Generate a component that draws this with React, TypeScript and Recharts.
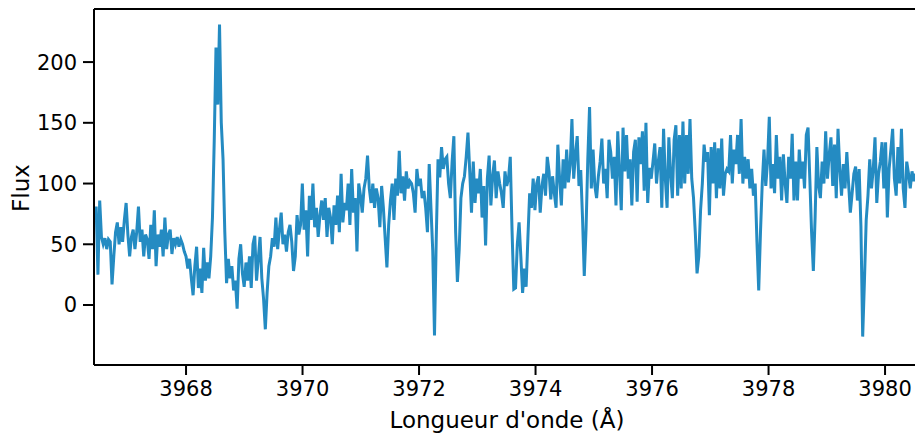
import { Label, Line, LineChart, ReferenceLine, XAxis, YAxis } from "recharts";

// wavelength grid of the spectrum (Å)
const WL_START = 3966.427;
const WL_STEP = 0.03025;

// flux, 10 samples per row
const flux = [
  70, 81, 25, 86, 56, 50, 55, 46, 54, 52,
  17, 40, 60, 68, 50, 64, 52, 70, 84, 58,
  40, 56, 62, 46, 60, 81, 52, 62, 40, 58,
  54, 38, 66, 46, 78, 32, 58, 48, 62, 40,
  72, 46, 58, 62, 42, 55, 50, 56, 48, 54,
  50, 44, 40, 30, 38, 22, 8, 32, 48, 14,
  30, 10, 47, 20, 35, 22, 40, 72, 135, 212,
  165, 231, 150, 120, 60, 18, 38, 22, 32, 12,
  20, -3, 38, 50, 26, 15, 35, 20, 40, 14,
  50, 57, 20, 38, 56, 22, 5, -20, 10, 32,
  40, 55, 48, 72, 46, 62, 76, 50, 58, 44,
  60, 66, 52, 28, 40, 74, 58, 66, 100, 62,
  78, 40, 90, 70, 100, 64, 80, 56, 74, 86,
  70, 88, 56, 80, 72, 50, 82, 66, 90, 60,
  108, 68, 84, 78, 100, 66, 112, 76, 88, 44,
  100, 90, 76, 96, 104, 123, 96, 84, 100, 80,
  96, 88, 64, 98, 80, 55, 31, 66, 86, 100,
  70, 104, 90, 127, 92, 106, 86, 110, 96, 102,
  100, 92, 76, 112, 98, 104, 88, 94, 80, 60,
  116, 80, 45, -25, 55, 120, 105, 130, 112, 120,
  122, 100, 88, 118, 139, 60, 19, 45, 88, 100,
  106, 122, 142, 110, 76, 118, 84, 104, 92, 112,
  72, 98, 49, 104, 123, 82, 106, 119, 88, 110,
  100, 92, 80, 110, 98, 104, 122, 62, 13, 14,
  50, 68, 40, 10, 30, 15, 55, 92, 80, 104,
  78, 100, 106, 76, 98, 108, 90, 122, 110, 87,
  106, 92, 80, 132, 104, 82, 120, 96, 128, 101,
  115, 153, 104, 124, 139, 98, 111, 72, 24, 62,
  120, 163, 96, 128, 98, 88, 106, 118, 137, 100,
  112, 88, 136, 126, 104, 122, 82, 143, 110, 78,
  146, 110, 140, 104, 120, 82, 126, 136, 85, 138,
  116, 143, 94, 150, 84, 113, 104, 118, 133, 100,
  118, 130, 80, 145, 104, 80, 138, 108, 88, 136,
  148, 90, 140, 96, 151, 100, 140, 108, 153, 104,
  88, 60, 26, 40, 78, 100, 132, 118, 126, 74,
  130, 100, 134, 88, 129, 96, 137, 90, 108, 112,
  110, 140, 100, 128, 116, 140, 108, 153, 100, 122,
  104, 120, 96, 112, 90, 100, 52, 12, 60, 100,
  128, 98, 118, 155, 96, 116, 92, 140, 104, 122,
  86, 124, 100, 84, 122, 104, 141, 86, 118, 86,
  128, 104, 118, 96, 140, 146, 104, 60, 28, 72,
  130, 98, 88, 118, 100, 143, 104, 124, 138, 98,
  132, 88, 145, 112, 90, 116, 96, 126, 100, 76,
  92, 108, 114, 86, 112, 65, -26, 20, 70, 90,
  120, 96, 112, 138, 84, 108, 118, 134, 96, 134,
  72, 112, 128, 145, 104, 90, 130, 100, 145, 96,
  80, 118, 108, 96, 110, 102, 108, 100,
];

const xTicks = [3968, 3970, 3972, 3974, 3976, 3978, 3980];
const yTicks = [0, 50, 100, 150, 200];

const X_DOMAIN: [number, number] = [3966.42, 3980.6];
const Y_DOMAIN: [number, number] = [-49.4, 243.7];

const data = flux.map((f, i) => ({ wl: WL_START + i * WL_STEP, flux: f }));

const FONT = "DejaVu Sans";
const LINE_COLOR = "#248bc2";

const axisStyle = { stroke: "#000", strokeWidth: 2 };

export default function App() {
  return (
    <div
      style={{
        position: "absolute",
        left: 0,
        top: 0,
        width: 915,
        height: 434,
        overflow: "hidden",
        background: "#fff",
      }}>
      <LineChart
        width={940}
        height={434}
        data={data}
        margin={{ top: 9, right: 20, bottom: 0, left: 0 }}>
        <XAxis
          dataKey="wl"
          type="number"
          domain={X_DOMAIN}
          ticks={xTicks}
          allowDataOverflow
          height={69}
          axisLine={axisStyle}
          tickLine={axisStyle}
          tickSize={10}
          tickMargin={6}
          tick={{ fill: "#000", fontSize: 21, fontFamily: FONT }}>
          <Label
            content={({ viewBox }: any) => (
              <text
                x={viewBox.x + viewBox.width / 2}
                y={428}
                textAnchor="middle"
                fontSize={23}
                fontFamily={FONT}
                fill="#000">
                Longueur d'onde (Å)
              </text>
            )}
          />
        </XAxis>
        <YAxis
          type="number"
          domain={Y_DOMAIN}
          ticks={yTicks}
          allowDataOverflow
          width={94}
          axisLine={axisStyle}
          tickLine={axisStyle}
          tickSize={11}
          tickMargin={6}
          tick={{ fill: "#000", fontSize: 21, fontFamily: FONT }}>
          <Label
            content={() => (
              <text
                x={29}
                y={188}
                textAnchor="middle"
                transform="rotate(-90, 29, 188)"
                fontSize={23}
                fontFamily={FONT}
                fill="#000">
                Flux
              </text>
            )}
          />
        </YAxis>
        <ReferenceLine y={Y_DOMAIN[1]} stroke="#000" strokeWidth={2} />
        <Line
          type="linear"
          dataKey="flux"
          stroke={LINE_COLOR}
          strokeWidth={3}
          dot={false}
          isAnimationActive={false}
        />
      </LineChart>
    </div>
  );
}
